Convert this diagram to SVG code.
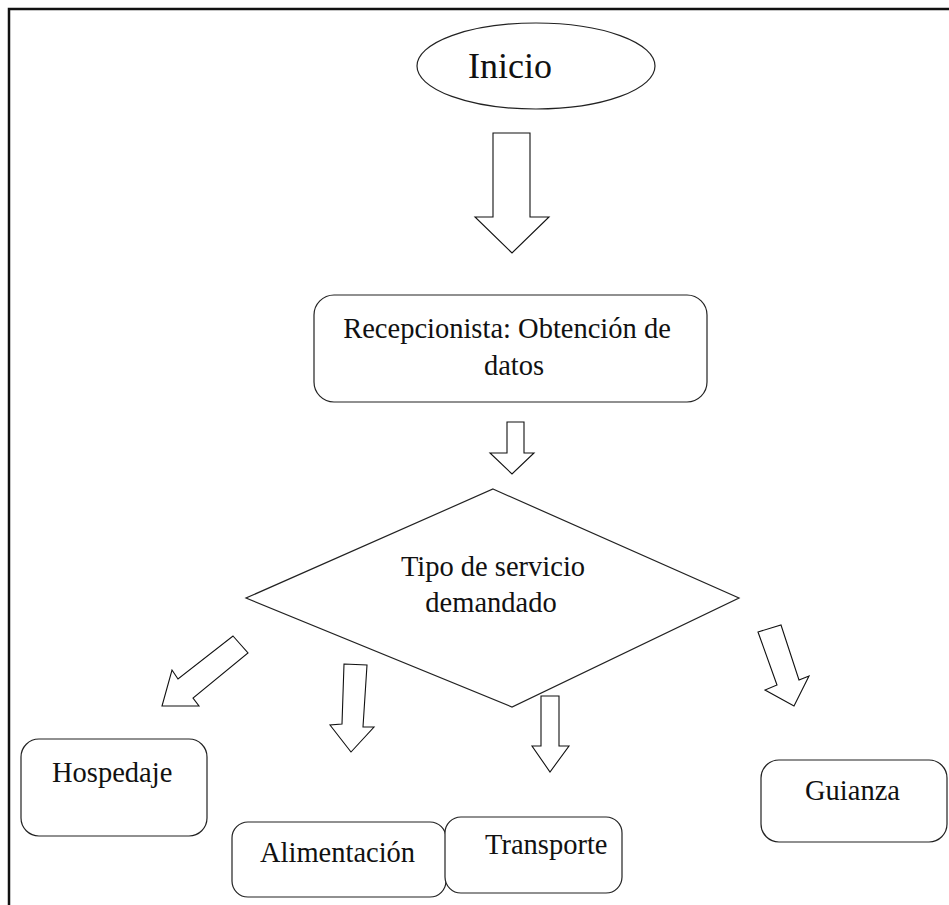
<svg xmlns="http://www.w3.org/2000/svg" width="949" height="905" viewBox="0 0 949 905">
  <style>
    .node { fill: #ffffff; stroke: #222222; stroke-width: 1.2; }
    .arrow { fill: #ffffff; stroke: #111111; stroke-width: 1.1; stroke-linejoin: miter; }
    .label { font-size: 28.5px; fill: #111111; }
    .frame { fill: none; stroke: #111111; stroke-width: 2.5; }
  </style>

  <rect width="949" height="905" fill="#ffffff"/>

  <!-- page frame (top and left edges) -->
  <path class="frame" d="M9,905 V9 H949"/>

  <!-- block arrows between steps -->
  <g id="connectors">
    <polygon class="arrow" points="493,133 530,133 530,217 549,217 512,253 475,217 493,217"/>
    <polygon class="arrow" points="507,422 524,422 524,453 534,453 512,474 490,453 507,453"/>
    <polygon class="arrow" points="233,636 248,653 193,698 199,706 162,706 172,670 178,679"/>
    <polygon class="arrow" points="344,664 367,665 363,727 374,727 351,752 330,725 342,724"/>
    <polygon class="arrow" points="541,696 559,696 559,746 569,746 550,772 532,746 541,746"/>
    <polygon class="arrow" points="758,632 781,625 799,680 809,676 794,706 765,690 777,685"/>
  </g>

  <g font-family="Liberation Serif, Times New Roman, Times, DejaVu Serif, serif">
    <g id="inicio">
      <ellipse class="node" cx="536" cy="66" rx="119" ry="43"/>
      <text class="label" x="468" y="78" style="font-size:36px">Inicio</text>
    </g>

    <g id="recepcionista">
      <rect class="node" x="314" y="295" width="393" height="107" rx="20"/>
      <text class="label" x="507" y="338" text-anchor="middle">Recepcionista: Obtención de</text>
      <text class="label" x="514" y="375" text-anchor="middle">datos</text>
    </g>

    <g id="tipo-servicio">
      <polygon class="node" points="493,489 739,598 512,707 246,598"/>
      <text class="label" x="493" y="576" text-anchor="middle">Tipo de servicio</text>
      <text class="label" x="491" y="612" text-anchor="middle">demandado</text>
    </g>

    <g id="hospedaje">
      <rect class="node" x="21" y="739" width="186" height="97" rx="18"/>
      <text class="label" x="52" y="782">Hospedaje</text>
    </g>

    <g id="alimentacion">
      <rect class="node" x="232" y="822" width="214" height="75" rx="16"/>
      <text class="label" x="260" y="862">Alimentación</text>
    </g>

    <g id="transporte">
      <rect class="node" x="445" y="817" width="177" height="76" rx="16"/>
      <text class="label" x="485" y="854">Transporte</text>
    </g>

    <g id="guianza">
      <rect class="node" x="761" y="760" width="186" height="82" rx="18"/>
      <text class="label" x="805" y="800">Guianza</text>
    </g>
  </g>
</svg>
